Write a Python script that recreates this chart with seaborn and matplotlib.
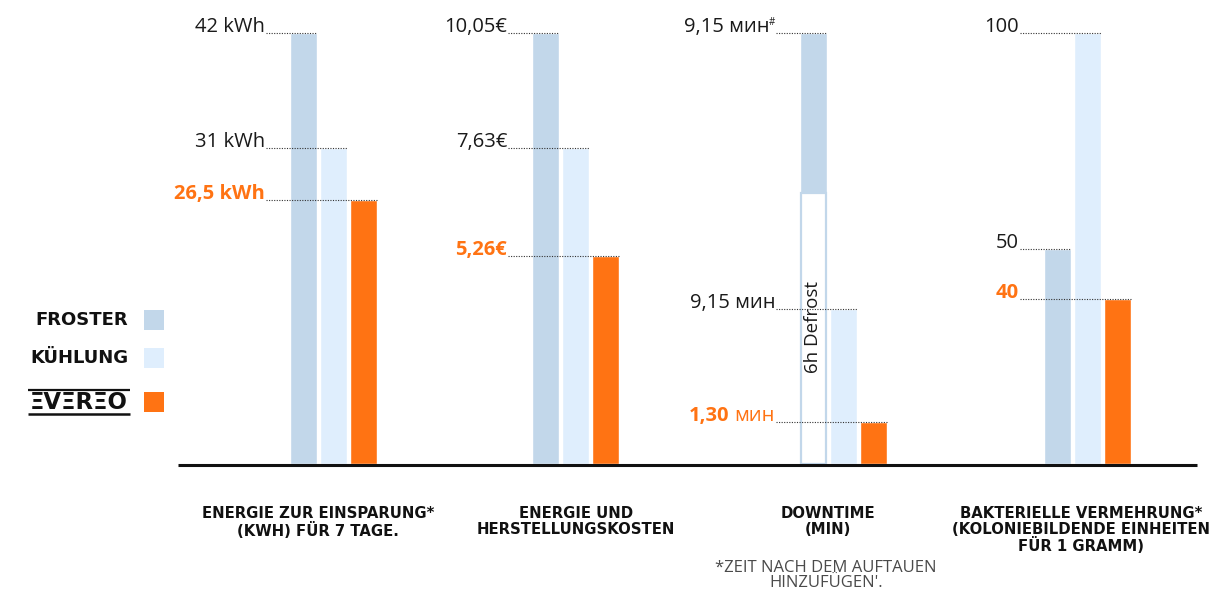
import matplotlib
matplotlib.use("Agg")
import matplotlib.pyplot as plt
from matplotlib.patches import Rectangle
import pandas as pd
import seaborn as sns

# ---------------- data ----------------
groups = ["ENERGIE ZUR EINSPARUNG*\n(KWH) FÜR 7 TAGE.",
          "ENERGIE UND\nHERSTELLUNGSKOSTEN",
          "DOWNTIME\n(MIN)",
          "BAKTERIELLE VERMEHRUNG*\n(KOLONIEBILDENDE EINHEITEN\nFÜR 1 GRAMM)"]
series = ["FROSTER", "KÜHLUNG", "EVEREO"]
# bar heights as drawn (percent of the tallest bar in each group)
froster_heights = [100, 100, 100, 49.8]
kuehlung_heights = [73.3, 73.3, 35.9, 100]
evereo_heights = [61.3, 48.3, 9.7, 38.2]
defrost_height = 63.0  # part of the FROSTER downtime bar marked "6h Defrost"
# value labels
froster_labels = ["42 kWh", "10,05€", "9,15 мин#", "50"]
kuehlung_labels = ["31 kWh", "7,63€", "9,15 мин", "100"]
evereo_labels = ["26,5 kWh", "5,26€", "1,30 мин", "40"]
footnote = "*ZEIT NACH DEM AUFTAUEN\nHINZUFÜGEN'."
defrost_text = "6h Defrost"

# ---------------- style ----------------
C_FROST = "#c2d7ea"
C_KUEHL = "#dfeefd"
C_EVER = "#ff7313"
palette = {"FROSTER": C_FROST, "KÜHLUNG": C_KUEHL, "EVEREO": C_EVER}

sns.set_theme(style="white")
plt.rcParams["font.family"] = ["Open Sans", "DejaVu Sans"]

df = pd.DataFrame({
    "group": [g for g in groups for _ in series],
    "series": series * len(groups),
    "height": [h for trip in zip(froster_heights, kuehlung_heights, evereo_heights) for h in trip],
})
labels = list(zip(froster_labels, kuehlung_labels, evereo_labels))

W, H = 1229, 594
fig = plt.figure(figsize=(W / 100, H / 100), dpi=100)
fig.patch.set_facecolor("white")

bg = fig.add_axes([0, 0, 1, 1], zorder=5)
bg.set_xlim(0, W)
bg.set_ylim(H, 0)
bg.axis("off")
bg.patch.set_alpha(0)

group_centers = [333.5, 575.5, 843.5, 1087.5]
label_centers = [318, 576, 828, 1081]
AX_W = 180
Y0, Y100 = 464, 33
PX = 1 / AX_W
PY = 100 / (Y0 - Y100)
VAL_FS = 14.5
TXT_DARK = "#1a1a1a"

for i, g in enumerate(groups):
    c = group_centers[i]
    ax = fig.add_axes([(c - AX_W / 2) / W, (H - Y0) / H, AX_W / W, (Y0 - Y100) / H], zorder=1)
    ax.patch.set_alpha(0)
    sns.barplot(data=df[df["group"] == g], x="group", y="height", hue="series",
                hue_order=series, palette=palette, width=0.5, gap=0.1,
                saturation=1, errorbar=None, legend=False, ax=ax)
    ax.set_xlim(-0.5, 0.5)
    ax.set_ylim(0, 100)
    ax.axis("off")
    bars = sorted(ax.patches, key=lambda p: p.get_x())[:3]
    line_start = bars[0].get_x() - 24 * PX
    tx = line_start - 1 * PX
    for j, b in enumerate(bars):
        top = b.get_height()
        right = b.get_x() + b.get_width()
        ax.plot([line_start, right], [top, top], ls=(0, (1, 1.3)), color="#333333",
                lw=0.8, clip_on=False, zorder=5)
        lab = labels[i][j]
        ty = top + 1.0 * PY
        if j < 2:
            if lab.endswith("#"):
                ax.text(tx, ty + 7 * PY, "#", ha="right", va="baseline", fontsize=7,
                        color=TXT_DARK, clip_on=False)
                ax.text(tx - 5 * PX, ty, lab[:-1], ha="right", va="baseline",
                        fontsize=VAL_FS, color=TXT_DARK, clip_on=False)
            else:
                ax.text(tx, ty, lab, ha="right", va="baseline", fontsize=VAL_FS,
                        color=TXT_DARK, clip_on=False)
        else:
            if lab.endswith("мин"):
                num, unit = lab.rsplit(" ", 1)
                t_unit = ax.text(tx, ty, unit, ha="right", va="baseline", fontsize=VAL_FS,
                                 color=C_EVER, clip_on=False)
                ax.annotate(num, xy=(0, 0), xycoords=t_unit, xytext=(-5, 0),
                            textcoords="offset pixels", ha="right", va="bottom",
                            fontsize=VAL_FS, color=C_EVER, fontweight="bold",
                            annotation_clip=False)
            else:
                ax.text(tx, ty, lab, ha="right", va="baseline", fontsize=VAL_FS,
                        color=C_EVER, fontweight="bold", clip_on=False)
    if i == 2:
        fb = bars[0]
        cx = fb.get_x() + fb.get_width() / 2
        ax.bar(cx, defrost_height - 0.5 * PY, width=fb.get_width() - 2 * PX, bottom=0.3 * PY,
               color="white", edgecolor=C_FROST, linewidth=1.6, zorder=3)
        ax.text(cx, (Y0 - 327) * PY, defrost_text, rotation=90, ha="center", va="center",
                fontsize=13.5, color=TXT_DARK, zorder=4)
    # category label
    bg.text(label_centers[i], 506, g, ha="center", va="top", fontsize=10.7,
            fontweight="bold", family="DejaVu Sans", color="#111111", linespacing=1.05)

# baseline
bg.plot([178, 1197], [465, 465], color="#111111", lw=2.2, solid_capstyle="butt")

# footnote
bg.text(826, 560, footnote, ha="center", va="top", fontsize=12, color="#4a4a4a",
        linespacing=0.95)

# legend
leg_y = [320, 358, 402]
for k, name in enumerate(series):
    bg.add_patch(Rectangle((144, leg_y[k] - 10), 20, 20, color=palette[name], lw=0))
    if name != "EVEREO":
        bg.text(128, leg_y[k], name, ha="right", va="center", fontsize=13,
                fontweight="bold", family="DejaVu Sans", color="#111111")
    else:
        bg.text(79, leg_y[k] + 0.5, "ΞVΞRΞO", ha="center", va="center", fontsize=16.5,
                fontweight="bold", family="DejaVu Sans", color="#111111")
        bg.plot([28, 130], [389.5, 389.5], color="#111111", lw=1.6, solid_capstyle="butt")
        bg.plot([28, 130], [414, 414], color="#111111", lw=1.8, solid_capstyle="butt")

fig.savefig("out.png", dpi=100, facecolor="white")
